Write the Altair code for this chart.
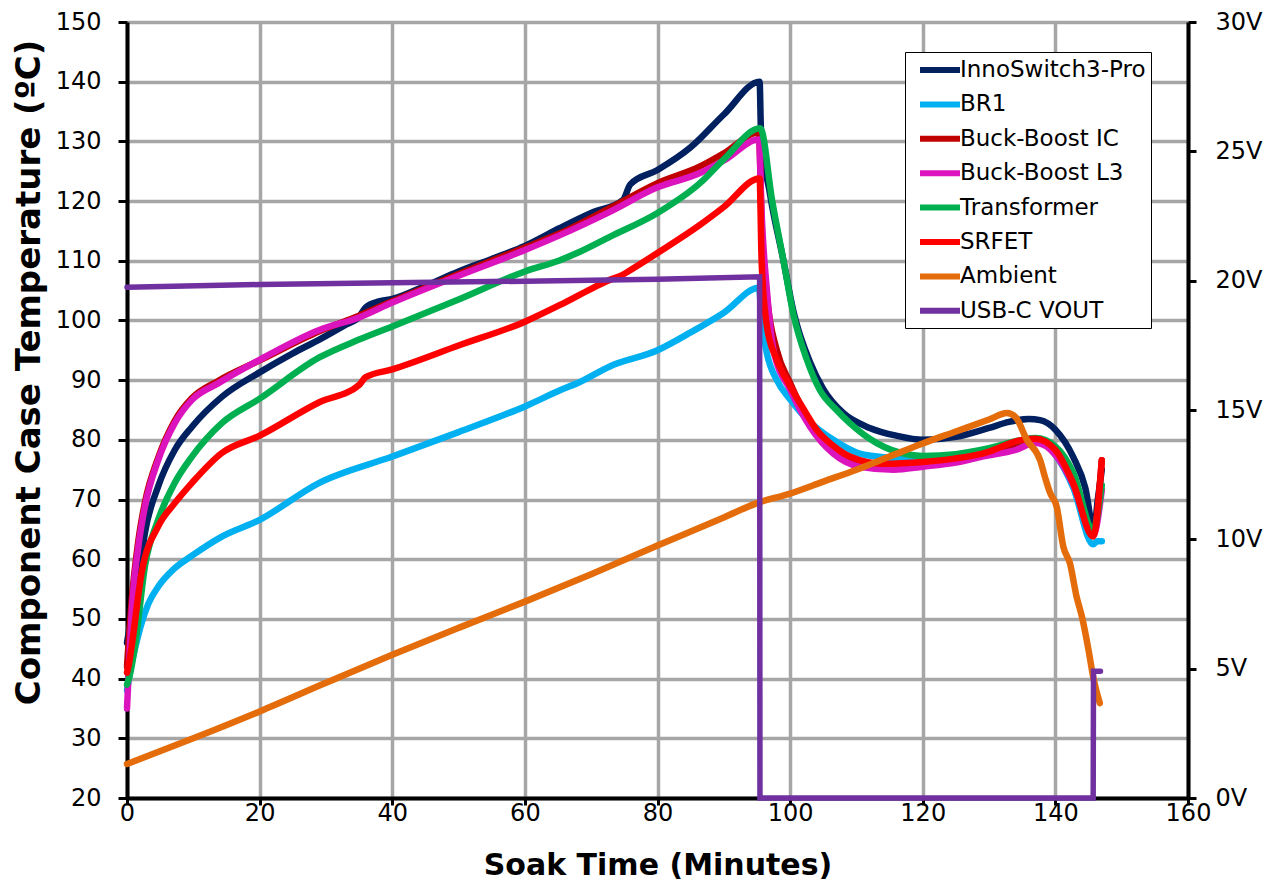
import altair as alt
import pandas as pd

series_names = ["InnoSwitch3-Pro", "BR1", "Buck-Boost IC", "Buck-Boost L3",
                "Transformer", "SRFET", "Ambient", "USB-C VOUT"]
series_colors = ["#002060", "#00B0F0", "#C00000", "#DC14BE",
                 "#00B050", "#FF0000", "#E46C0A", "#7030A0"]

x_ticks = [0, 20, 40, 60, 80, 100, 120, 140, 160]
temp_ticks = [20, 30, 40, 50, 60, 70, 80, 90, 100, 110, 120, 130, 140, 150]
volt_ticks = [0, 5, 10, 15, 20, 25, 30]

inno_t = [0, 0.3, 0.7, 1.7, 2.7, 4.7, 7.2, 9.8, 14.3, 20, 25, 29, 33, 35, 36, 38, 40, 45, 50, 55,
          60, 65.3, 70, 74.8, 75.9, 80, 85, 90, 95.4, 95.6, 97, 99, 100.5, 103, 105, 108, 112, 116, 120, 125,
          130, 133, 136, 137.7, 140, 142.7, 144.5, 145.8, 146.4, 147]
inno_v = [46, 48, 51, 56.5, 64.4, 72.2, 78.3, 82.2, 87.2, 91.3, 94.5, 96.8, 99.3, 100.6, 102.2, 103.2, 103.6, 105.8, 108.2, 110.3,
          112.5, 115.5, 118, 120.2, 122.8, 125.2, 129, 134.5, 140, 132, 121, 110, 101.5, 93, 88.5, 84.5, 82, 80.7, 80, 80.5,
          82, 83, 83.5, 83.3, 81.7, 77.1, 72, 65, 70, 75]

br1_t = [0, 0.5, 1.2, 2.2, 3.2, 4.7, 7, 9.8, 14.3, 20, 29, 40, 50, 60, 65.3, 68.3, 72.8, 80, 85, 90,
         95.3, 95.7, 96.5, 98, 100, 102.5, 106.5, 110.5, 115, 120, 125, 130, 135, 137.5, 140, 142.7, 145.7, 146.3, 147]
br1_v = [38, 41.5, 45, 49.3, 52.5, 55.4, 58.3, 60.6, 63.8, 66.6, 72.8, 77.2, 81.3, 85.6, 88.3, 89.7, 92.3, 95, 98, 101.3,
         105.5, 100, 94.5, 90, 86.8, 83.5, 80, 77.7, 77, 76.5, 77, 78, 79.5, 79.8, 77.5, 72, 62.5, 63, 63]

bbic_t = [0, 0.3, 0.7, 1.7, 2.7, 4.7, 7.2, 9.8, 13.8, 20, 29, 35, 40, 50, 60, 65.3, 72.8, 80, 86.4, 90,
          95.3, 95.7, 96.5, 98, 100, 103, 106.5, 110.5, 115, 120, 125, 129, 134, 137, 140, 142.7, 145.7, 147]
bbic_v = [42, 47, 53, 63, 69.5, 77, 83.2, 87, 89.9, 93.3, 98.2, 100.8, 103.2, 107.8, 112.2, 114.6, 118.8, 123, 125.8, 128,
          131.5, 116, 104, 95, 89.5, 82.8, 78.2, 76, 75.4, 75.8, 76.6, 77.6, 79.3, 80, 78, 72.6, 64.5, 76.6]

bbl3_t = [0, 0.3, 0.7, 1.7, 2.7, 4.7, 7.2, 9.8, 13.8, 20, 29, 35, 40, 50, 60, 65.3, 72.8, 80, 86.4, 90,
          95.3, 95.7, 96.5, 97.5, 100, 103, 106.5, 110.5, 115.6, 120, 125, 129, 134, 137, 140, 142.7, 145.7, 147]
bbl3_v = [35, 42, 51, 62, 68.8, 76.6, 82.8, 86.7, 89.5, 93.4, 98.4, 100.5, 103, 107.5, 111.8, 114.3, 118.2, 122.3, 124.7, 126.8,
          130.3, 118, 105, 95, 88.4, 82.2, 77.7, 75.5, 75, 75.5, 76.2, 77.2, 78.3, 79.5, 77.5, 72.5, 64, 71.6]

tr_t = [0, 0.4, 1.2, 2.7, 4.7, 7.2, 9.8, 14.3, 20, 29, 35, 40, 50, 60, 65.3, 68.3, 72.8, 80, 86.4, 90,
        95.5, 97.3, 99, 100.5, 102.5, 104.5, 107, 109, 113, 118, 120, 125, 130, 135, 137, 140, 142.7, 145.7, 147]
tr_v = [39, 40.5, 45.4, 58.8, 66.6, 72.8, 77.2, 82.8, 86.9, 93.8, 96.8, 99, 103.5, 108.2, 110.1, 111.5, 114, 118, 123, 127,
        132.2, 120, 110, 101, 93.5, 88.3, 85, 82.8, 79.5, 77.5, 77.3, 77.6, 78.6, 80, 80.3, 78.9, 74.5, 65, 72.4]

sr_t = [0, 0.3, 0.7, 2.2, 4.7, 7.2, 9.8, 14.3, 20, 29, 35, 36, 40, 50, 60, 65.3, 70, 72.8, 74.5, 76,
        80, 86.4, 90, 95.4, 95.7, 96.5, 98, 100, 102, 104, 106.5, 109, 114, 120, 125, 129, 135, 137, 140, 142.7,
        145.7, 147]
sr_v = [41, 42.5, 45.4, 57.7, 65.5, 69.4, 72.8, 77.8, 80.7, 86.3, 89.2, 90.5, 91.8, 95.8, 99.8, 102.6, 105.3, 106.8, 107.5, 108.5,
        111.3, 116, 119, 123.8, 110, 99, 93.4, 89, 85.2, 81.7, 79, 77.2, 76, 76.3, 76.9, 77.7, 80, 80.2, 78.3, 72.7,
        63.8, 76.6]

amb_t = [0, 10, 20, 30, 40, 50, 60, 70, 80, 90, 95, 100, 105, 110, 115, 120, 125, 130, 132.7, 134,
         135.7, 137.7, 138.5, 139.2, 140.2, 141.2, 142.2, 143.2, 144, 145, 145.7, 146.7]
amb_v = [25.7, 30, 34.5, 39.3, 44, 48.5, 52.9, 57.5, 62.3, 67, 69.4, 71, 73, 75, 77.2, 79.4, 81.4, 83.4, 84.5, 83.8,
         80, 76.6, 73.5, 71.1, 68.8, 62.1, 59.3, 53.7, 50.4, 44.8, 40.3, 35.9]

vout_t = [0, 20, 40, 60, 80, 95.4, 95.45, 145.7, 145.75, 146.8]
vout_v = [19.75, 19.85, 19.92, 19.98, 20.05, 20.15, 0, 0, 4.9, 4.9]

temp_series = [
    ("InnoSwitch3-Pro", inno_t, inno_v),
    ("BR1", br1_t, br1_v),
    ("Buck-Boost IC", bbic_t, bbic_v),
    ("Buck-Boost L3", bbl3_t, bbl3_v),
    ("Transformer", tr_t, tr_v),
    ("SRFET", sr_t, sr_v),
    ("Ambient", amb_t, amb_v),
]

FONT = "DejaVu Sans"
PLOT_W, PLOT_H = 1061, 776

color_scale = alt.Scale(domain=series_names, range=series_colors)
legend = alt.Legend(
    title=None, orient="none", legendX=778, legendY=30,
    padding=5, strokeColor="black", fillColor="white",
    symbolType="M-0.3,0H3.7", symbolSize=400, symbolStrokeWidth=6,
    labelFontSize=23, labelFont=FONT, labelColor="black", labelLimit=400,
    labelOffset=24, rowPadding=9.4, cornerRadius=0,
)

x_enc = alt.X("t:Q", scale=alt.Scale(domain=[0, 160], nice=False, zero=False),
              axis=alt.Axis(values=x_ticks, title="Soak Time (Minutes)",
                            labelFontSize=24, labelFont=FONT, labelColor="black",
                            labelFlush=False, labelPadding=-4,
                            tickSize=7, tickWidth=3, tickColor="black",
                            domainColor="black", domainWidth=4,
                            grid=True, gridColor="#A6A6A6", gridWidth=3.5,
                            titleFontSize=30, titleFont=FONT, titleFontWeight="bold",
                            titleColor="black", titleY=76, titleBaseline="alphabetic"))

y_temp = alt.Y("temp:Q", scale=alt.Scale(domain=[20, 150], nice=False, zero=False),
               axis=alt.Axis(values=temp_ticks, title="Component Case Temperature (ºC)",
                             labelFontSize=24, labelFont=FONT, labelColor="black",
                             labelPadding=17, tickSize=9, tickWidth=3, tickColor="black",
                             domainColor="black", domainWidth=4,
                             grid=True, gridColor="#A6A6A6", gridWidth=3.5,
                             titleFontSize=34, titleFont=FONT, titleFontWeight="bold",
                             titleColor="black", titleAngle=270, titleAlign="center",
                             titleBaseline="alphabetic", titleX=-88, titleY=350))

layers = []
for name, ts, vs in temp_series:
    df = pd.DataFrame({"t": ts, "temp": vs, "series": name})
    layers.append(
        alt.Chart(df).mark_line(strokeWidth=6.5, strokeCap="round", strokeJoin="round",
                                interpolate="monotone")
        .encode(x=x_enc, y=y_temp,
                color=alt.Color("series:N", scale=color_scale, legend=legend))
    )
temp_layer = alt.layer(*layers)

vdf = pd.DataFrame({"t": vout_t, "volts": vout_v, "series": "USB-C VOUT"})
volt_layer = alt.Chart(vdf).mark_line(strokeWidth=5.5, strokeCap="round", strokeJoin="miter").encode(
    x=x_enc,
    y=alt.Y("volts:Q", scale=alt.Scale(domain=[0, 30], nice=False, zero=False),
            axis=alt.Axis(orient="right", values=volt_ticks, title=None,
                          labelExpr="datum.value + 'V'",
                          labelFontSize=24, labelFont=FONT, labelColor="black",
                          labelPadding=19, tickSize=8, tickWidth=3, tickColor="black",
                          domainColor="black", domainWidth=4, grid=False)),
    color=alt.Color("series:N", scale=color_scale, legend=legend),
)

chart = (
    alt.layer(temp_layer, volt_layer)
    .resolve_scale(y="independent")
    .properties(width=PLOT_W, height=PLOT_H,
                padding={"left": 119, "top": 14, "right": 79, "bottom": 82},
                autosize=alt.AutoSizeParams(type="none"))
    .configure_view(stroke=None)
    .configure(background="white")
)

chart.save("out.html", embed_options={"renderer": "svg", "actions": False})
